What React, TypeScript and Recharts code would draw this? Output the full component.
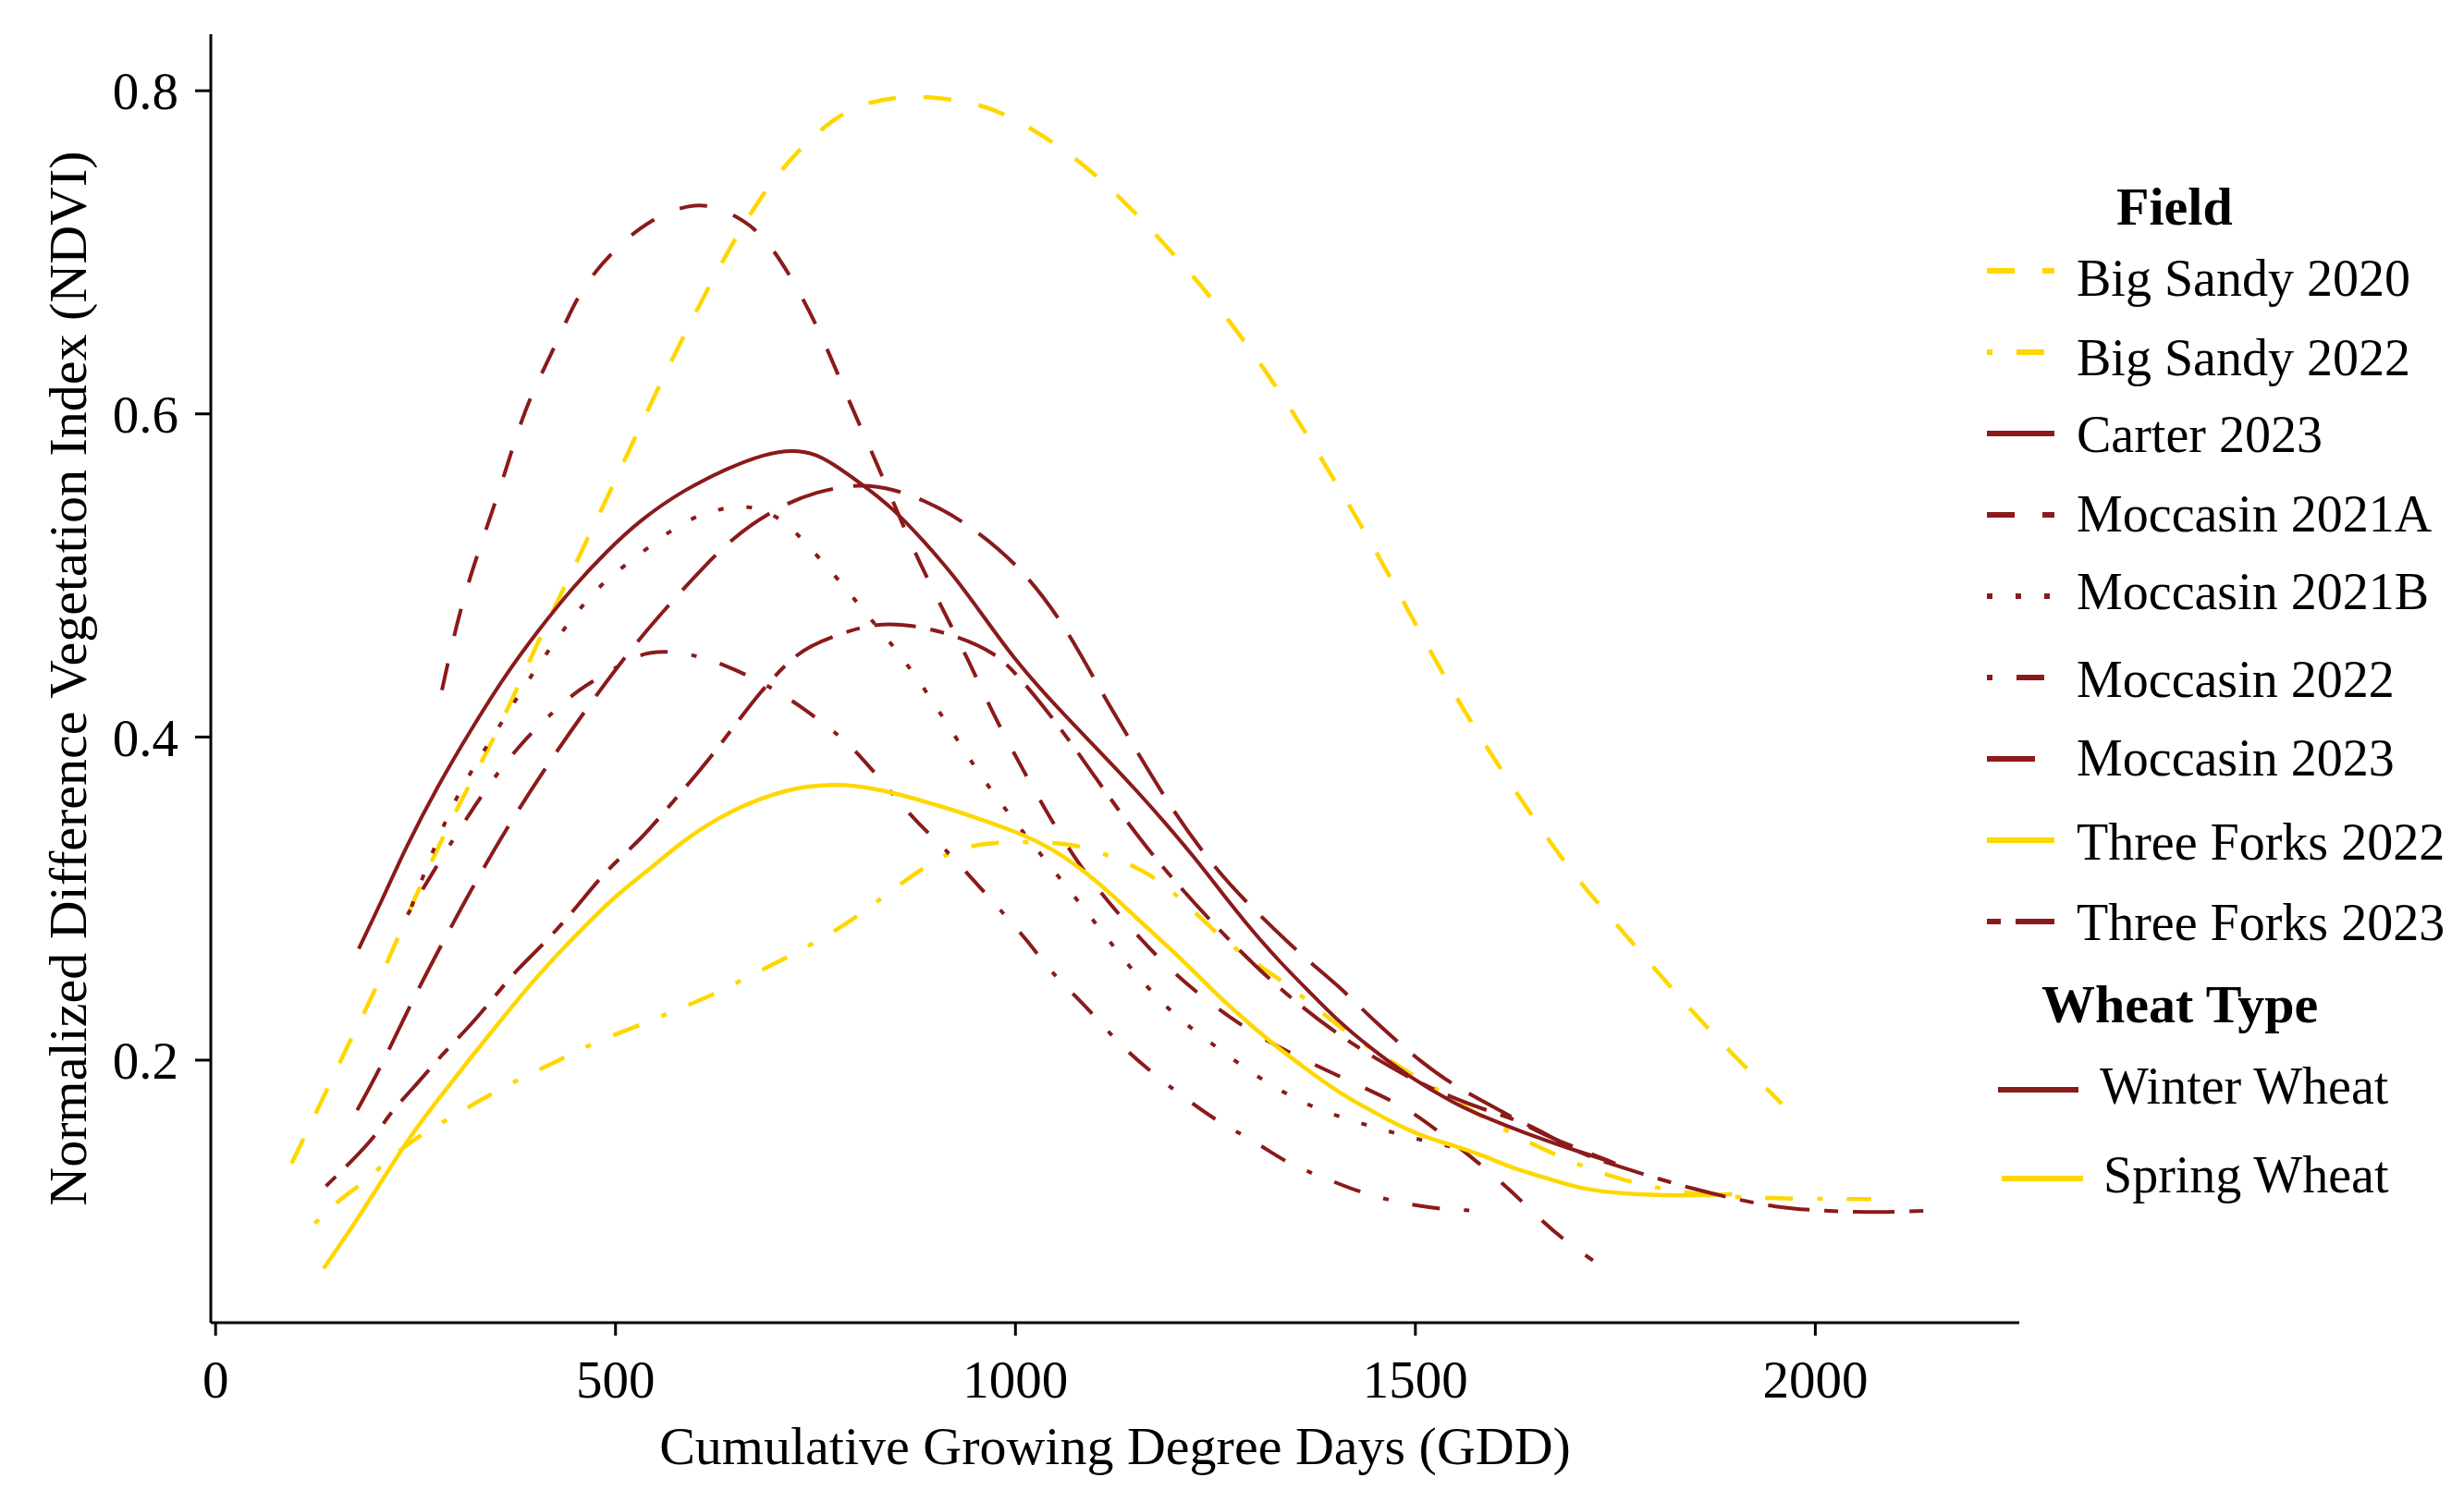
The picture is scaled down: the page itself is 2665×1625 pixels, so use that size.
import { LineChart, Line, XAxis, YAxis } from 'recharts';

const FONT = "'Liberation Serif', 'Times New Roman', serif";
const RED = '#8B1A1A';
const GOLD = '#FFD700';

// [GDD, NDVI] points
const bigSandy2020 = [
  [95, 0.136], [130, 0.172], [165, 0.209], [200, 0.243], [250, 0.302], [300, 0.355], [350, 0.400],
  [400, 0.456], [450, 0.507], [500, 0.559], [550, 0.613], [600, 0.663], [650, 0.710], [700, 0.748],
  [750, 0.774], [800, 0.792], [870, 0.798], [950, 0.793], [1000, 0.783], [1070, 0.761], [1130, 0.735],
  [1200, 0.698], [1250, 0.669], [1300, 0.636], [1350, 0.599], [1400, 0.558], [1450, 0.516], [1500, 0.470],
  [1550, 0.425], [1600, 0.385], [1650, 0.348], [1700, 0.313], [1750, 0.285], [1800, 0.256], [1850, 0.228],
  [1900, 0.202], [1958, 0.173],
];
const bigSandy2022 = [
  [124, 0.099], [155, 0.114], [185, 0.124], [215, 0.138], [250, 0.152], [296, 0.165], [340, 0.178],
  [387, 0.190], [430, 0.200], [473, 0.211], [527, 0.221], [571, 0.230], [620, 0.240], [668, 0.252],
  [716, 0.264], [761, 0.276], [800, 0.288], [848, 0.306], [890, 0.321], [931, 0.332], [980, 0.335],
  [1025, 0.335], [1075, 0.334], [1126, 0.325], [1170, 0.315], [1209, 0.299], [1250, 0.279], [1290, 0.263],
  [1334, 0.249], [1372, 0.234], [1404, 0.221], [1450, 0.205], [1500, 0.190], [1550, 0.175], [1600, 0.160],
  [1650, 0.147], [1700, 0.136], [1750, 0.127], [1800, 0.121], [1850, 0.117], [1900, 0.115], [2000, 0.114],
  [2070, 0.114],
];
const carter2023 = [
  [179, 0.269], [210, 0.301], [237, 0.331], [279, 0.371], [321, 0.406], [363, 0.439], [405, 0.467],
  [447, 0.493], [489, 0.515], [530, 0.534], [585, 0.553], [643, 0.567], [686, 0.575], [722, 0.578],
  [751, 0.575], [769, 0.570], [807, 0.557], [846, 0.542], [884, 0.522], [923, 0.500], [961, 0.474],
  [999, 0.448], [1038, 0.426], [1076, 0.406], [1115, 0.386], [1153, 0.366], [1187, 0.347], [1223, 0.326],
  [1259, 0.303], [1296, 0.280], [1332, 0.260], [1368, 0.242], [1404, 0.224], [1440, 0.209], [1491, 0.190],
  [1549, 0.173], [1585, 0.165], [1636, 0.155], [1694, 0.145], [1745, 0.137],
];
const moccasin2021A = [
  [283, 0.429], [302, 0.472], [323, 0.507], [347, 0.541], [369, 0.575], [390, 0.608], [427, 0.644],
  [455, 0.677], [499, 0.702], [530, 0.715], [563, 0.725], [600, 0.730], [628, 0.728], [660, 0.720],
  [690, 0.708], [729, 0.677], [761, 0.645], [790, 0.610], [819, 0.578], [845, 0.548], [875, 0.513],
  [906, 0.482], [941, 0.448], [971, 0.415], [1009, 0.380], [1043, 0.350], [1080, 0.320], [1126, 0.292],
  [1178, 0.263], [1230, 0.240], [1300, 0.215], [1370, 0.198], [1440, 0.182], [1491, 0.170], [1531, 0.155],
  [1578, 0.137], [1620, 0.119], [1657, 0.101], [1690, 0.087], [1722, 0.076],
];
const moccasin2021B = [
  [245, 0.295], [275, 0.334], [300, 0.362], [326, 0.384], [350, 0.403], [384, 0.430], [426, 0.461],
  [472, 0.490], [503, 0.503], [535, 0.515], [564, 0.526], [592, 0.535], [628, 0.541], [661, 0.544],
  [700, 0.538], [729, 0.525], [754, 0.511], [783, 0.495], [807, 0.480], [855, 0.452], [900, 0.420],
  [950, 0.380], [1000, 0.347], [1050, 0.316], [1100, 0.285], [1140, 0.259], [1194, 0.229], [1249, 0.209],
  [1306, 0.188], [1372, 0.170], [1437, 0.160], [1509, 0.150], [1560, 0.145],
];
const moccasin2022 = [
  [240, 0.290], [270, 0.315], [310, 0.347], [348, 0.375], [382, 0.396], [416, 0.413], [455, 0.430],
  [491, 0.440], [531, 0.452], [560, 0.453], [590, 0.452], [636, 0.445], [682, 0.434], [717, 0.424],
  [765, 0.407], [805, 0.390], [870, 0.350], [906, 0.334], [950, 0.310], [981, 0.293], [1017, 0.273],
  [1043, 0.255], [1093, 0.231], [1129, 0.210], [1176, 0.190], [1216, 0.175], [1259, 0.160], [1299, 0.150],
  [1340, 0.136], [1382, 0.128], [1426, 0.119], [1469, 0.113], [1522, 0.108], [1570, 0.107],
];
const moccasin2023 = [
  [177, 0.169], [206, 0.195], [244, 0.235], [285, 0.274], [329, 0.314], [373, 0.351], [422, 0.388],
  [470, 0.422], [526, 0.459], [585, 0.492], [646, 0.524], [702, 0.542], [750, 0.552], [807, 0.557],
  [850, 0.553], [884, 0.547], [935, 0.534], [1004, 0.507], [1061, 0.470], [1107, 0.428], [1152, 0.391],
  [1197, 0.354], [1250, 0.318], [1300, 0.292], [1364, 0.262], [1400, 0.248], [1455, 0.221], [1509, 0.198],
  [1552, 0.183], [1610, 0.168], [1654, 0.155], [1700, 0.146], [1750, 0.136],
];
const threeForks2022 = [
  [135, 0.071], [174, 0.099], [210, 0.127], [246, 0.155], [282, 0.178], [318, 0.201], [354, 0.223],
  [390, 0.245], [426, 0.265], [462, 0.283], [498, 0.301], [542, 0.318], [585, 0.336], [628, 0.350],
  [679, 0.362], [736, 0.370], [787, 0.371], [837, 0.367], [895, 0.359], [952, 0.350], [1003, 0.341],
  [1046, 0.331], [1089, 0.316], [1124, 0.301], [1151, 0.288], [1187, 0.272], [1223, 0.255], [1259, 0.237],
  [1296, 0.221], [1332, 0.206], [1368, 0.193], [1404, 0.180], [1440, 0.170], [1477, 0.160], [1513, 0.152],
  [1549, 0.147], [1585, 0.141], [1621, 0.133], [1665, 0.127], [1708, 0.120], [1766, 0.117], [1838, 0.116],
  [1896, 0.117],
];
const threeForks2023 = [
  [138, 0.122], [169, 0.137], [200, 0.153], [219, 0.168], [246, 0.182], [277, 0.200], [298, 0.211],
  [325, 0.225], [358, 0.245], [379, 0.257], [400, 0.267], [431, 0.283], [455, 0.297], [491, 0.319],
  [531, 0.336], [570, 0.359], [607, 0.380], [643, 0.403], [679, 0.427], [729, 0.454], [772, 0.462],
  [816, 0.470], [870, 0.470], [931, 0.462], [974, 0.452], [1000, 0.440], [1050, 0.410], [1100, 0.375],
  [1150, 0.340], [1200, 0.310], [1250, 0.283], [1300, 0.258], [1350, 0.236], [1400, 0.217], [1450, 0.201],
  [1500, 0.187], [1550, 0.176], [1600, 0.167], [1650, 0.159], [1700, 0.143], [1750, 0.135], [1800, 0.127],
  [1850, 0.120], [1900, 0.114], [1950, 0.109], [2000, 0.107], [2050, 0.106], [2100, 0.106], [2149, 0.107],
];

const xTicks = [0, 500, 1000, 1500, 2000];
const yTicks = [0.2, 0.4, 0.6, 0.8];

const DASHED = '30 30';
const DOTTED = '6 25';
const DOTDASH = '6 26 30 26';
const LONGDASH = '52 22';
const TWODASH = '15 16 45 16';

const series = [
  { name: 'Big Sandy 2020', pts: bigSandy2020, color: GOLD, dash: DASHED },
  { name: 'Big Sandy 2022', pts: bigSandy2022, color: GOLD, dash: DOTDASH },
  { name: 'Carter 2023', pts: carter2023, color: RED, dash: undefined },
  { name: 'Moccasin 2021A', pts: moccasin2021A, color: RED, dash: DASHED },
  { name: 'Moccasin 2021B', pts: moccasin2021B, color: RED, dash: DOTTED },
  { name: 'Moccasin 2022', pts: moccasin2022, color: RED, dash: DOTDASH },
  { name: 'Moccasin 2023', pts: moccasin2023, color: RED, dash: LONGDASH },
  { name: 'Three Forks 2022', pts: threeForks2022, color: GOLD, dash: undefined },
  { name: 'Three Forks 2023', pts: threeForks2023, color: RED, dash: TWODASH },
];

const legendRowsY = [293, 381, 469, 557, 645, 733, 821, 909, 997];
const legendTextY = [320, 406, 489, 575, 659, 754, 839, 930, 1017];

const tickStyle = { fill: '#000', fontSize: 57, fontFamily: FONT };

function YTitle(props: any) {
  const vb = props.viewBox;
  const cx = 73;
  const cy = vb.y + vb.height / 2;
  return (
    <text x={cx} y={cy} transform={`rotate(-90, ${cx}, ${cy})`} textAnchor="middle"
      dominantBaseline="central" fontSize={58} fontFamily={FONT} fill="#000">
      Normalized Difference Vegetation Index (NDVI)
    </text>
  );
}

function XTitle(props: any) {
  const vb = props.viewBox;
  return (
    <text x={vb.x + vb.width / 2} y={1584} textAnchor="middle" fontSize={58} fontFamily={FONT} fill="#000">
      Cumulative Growing Degree Days (GDD)
    </text>
  );
}

function Legend() {
  return (
    <svg width={2665} height={1625} style={{ position: 'absolute', left: 0, top: 0, pointerEvents: 'none' }}>
      <text x={2289} y={243} fontSize={58} fontWeight="bold" fontFamily={FONT} fill="#000">Field</text>
      {series.map((s, i) => (
        <g key={s.name}>
          <line x1={2149} x2={2222} y1={legendRowsY[i]} y2={legendRowsY[i]} stroke={s.color}
            strokeWidth={6} strokeDasharray={s.dash} />
          <text x={2246} y={legendTextY[i]} fontSize={56} fontFamily={FONT} fill="#000">{s.name}</text>
        </g>
      ))}
      <text x={2208} y={1106} fontSize={58} fontWeight="bold" fontFamily={FONT} fill="#000">Wheat Type</text>
      <line x1={2161} x2={2248} y1={1179} y2={1179} stroke={RED} strokeWidth={6} />
      <text x={2271} y={1194} fontSize={56} fontFamily={FONT} fill="#000">Winter Wheat</text>
      <line x1={2165} x2={2253} y1={1275} y2={1275} stroke={GOLD} strokeWidth={6} />
      <text x={2275} y={1290} fontSize={56} fontFamily={FONT} fill="#000">Spring Wheat</text>
    </svg>
  );
}

export default function App() {
  return (
    <div style={{ position: 'absolute', left: 0, top: 0, width: 2665, height: 1625, background: '#fff' }}>
      <LineChart width={2665} height={1625} margin={{ top: 37, right: 481, bottom: 0, left: 0 }}>
        <XAxis type="number" dataKey="x" domain={[-6, 2255]} ticks={xTicks} allowDataOverflow
          height={194} axisLine={{ stroke: '#000', strokeWidth: 3 }} tickLine={{ stroke: '#000', strokeWidth: 3 }}
          tickSize={14} tickMargin={27} tick={tickStyle} label={XTitle} />
        <YAxis type="number" dataKey="y" domain={[0.0375, 0.835]} ticks={yTicks} allowDataOverflow
          width={228} axisLine={{ stroke: '#000', strokeWidth: 3 }} tickLine={{ stroke: '#000', strokeWidth: 3 }}
          tickSize={17} tickMargin={18} tick={tickStyle} label={YTitle} />
        {series.map((s) => (
          <Line key={s.name} name={s.name} data={s.pts.map(([x, y]) => ({ x, y }))} dataKey="y"
            type="basis" stroke={s.color} strokeWidth={s.color === GOLD ? 4.5 : 4} strokeDasharray={s.dash}
            dot={false} activeDot={false} isAnimationActive={false} />
        ))}
      </LineChart>
      <Legend />
    </div>
  );
}
